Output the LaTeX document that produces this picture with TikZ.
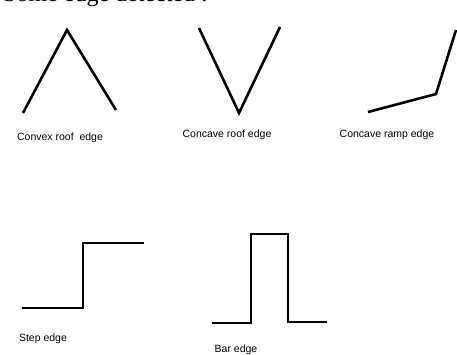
\documentclass[tikz,border=0pt]{standalone}
\usepackage{fontspec}
\setmainfont{Liberation Sans}
\newfontfamily\serifhead{Liberation Serif}
\begin{document}
\begin{tikzpicture}[x=1pt,y=-1pt,
  edgeline/.style={line width=2.6pt,line join=miter,line cap=butt},
  caption/.style={font=\fontsize{10.5}{12}\selectfont,inner sep=0pt,anchor=base}]
\useasboundingbox[fill=white] (0,0) rectangle (457,354);
% cut-off heading
\node[font=\serifhead\fontsize{24}{28}\selectfont,inner sep=0pt,anchor=base west] (head) at (3,1) {Some edge detected :};
% convex roof
\draw[edgeline] (23,113) -- (67,30) -- (116,110);
\node[caption] (l1) at (60,140) {Convex roof\ \ edge};
% concave roof
\draw[edgeline] (199,28) -- (239,113) -- (280,27);
\node[caption] (l2) at (227,137) {Concave roof edge};
% concave ramp
\draw[edgeline] (368,112) -- (436,94) -- (456,30);
\node[caption] (l3) at (387,137) {Concave ramp edge};
% step
\draw[edgeline] (22,308) -- (83,308) -- (83,243) -- (144,243);
\node[caption] (l4) at (43,341) {Step edge};
% bar
\draw[edgeline] (212,323) -- (251,323) -- (251,234) -- (288,234) -- (288,322) -- (327,322);
\node[caption] (l5) at (236,352) {Bar edge};
\end{tikzpicture}
\end{document}
